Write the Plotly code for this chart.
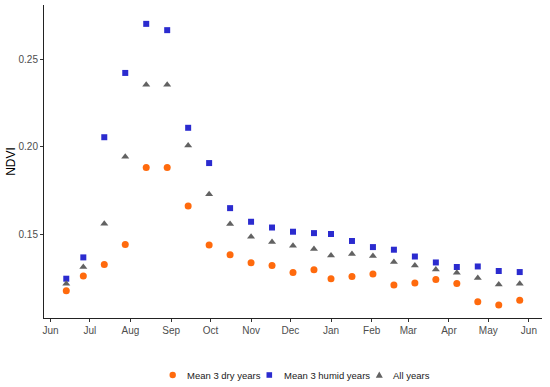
import plotly.graph_objects as go

dates = ["2001-06-13", "2001-06-26", "2001-07-12", "2001-07-28", "2001-08-13", "2001-08-29",
         "2001-09-14", "2001-09-30", "2001-10-16", "2001-11-01", "2001-11-17", "2001-12-03",
         "2001-12-19", "2002-01-01", "2002-01-17", "2002-02-02", "2002-02-18", "2002-03-06",
         "2002-03-22", "2002-04-07", "2002-04-23", "2002-05-09", "2002-05-25"]

dry = [0.1176, 0.1260, 0.1327, 0.1441, 0.1882, 0.1882, 0.1661, 0.1438, 0.1382, 0.1336,
       0.1321, 0.1281, 0.1296, 0.1245, 0.1258, 0.1272, 0.1209, 0.1220, 0.1241, 0.1218,
       0.1113, 0.1094, 0.1121]
humid = [0.1245, 0.1367, 0.2055, 0.2423, 0.2704, 0.2668, 0.2109, 0.1907, 0.1649, 0.1571,
         0.1538, 0.1514, 0.1506, 0.1501, 0.1461, 0.1426, 0.1411, 0.1372, 0.1338, 0.1312,
         0.1315, 0.1289, 0.1283]
all_years = [0.1216, 0.1312, 0.1560, 0.1943, 0.2356, 0.2356, 0.2007, 0.1729, 0.1558, 0.1485,
             0.1455, 0.1434, 0.1415, 0.1378, 0.1386, 0.1375, 0.1340, 0.1321, 0.1298, 0.1279,
             0.1249, 0.1212, 0.1216]

series_names = ["Mean 3 dry years", "Mean 3 humid years", "All years"]
series_colors = ["#FF6A0D", "#2B2BCF", "#626262"]
y_ticks = [0.15, 0.20, 0.25]

W, H = 550, 387
ML, MR, MT, MB = 44, 8, 5, 69
PW, PH = W - ML - MR, H - MT - MB


def px_x(px):
    return (px - ML) / PW


def px_y(py):
    return (H - MB - py) / PH


fig = go.Figure()
fig.add_trace(go.Scatter(x=dates, y=dry, mode="markers", name=series_names[0],
                         marker=dict(symbol="circle", size=7, color=series_colors[0])))
fig.add_trace(go.Scatter(x=dates, y=humid, mode="markers", name=series_names[1],
                         marker=dict(symbol="square", size=6, color=series_colors[1])))
fig.add_trace(go.Scatter(x=dates, y=all_years, mode="markers", name=series_names[2],
                         marker=dict(symbol="triangle-up", size=7, color=series_colors[2])))

# Legend drawn below the panel (ggplot-style compact spacing)
leg_y = 375
sym_x = [172.7, 269.3, 379.3]
txt_x = [185, 281.7, 390.7]
shapes = []
r = 3.2
shapes.append(dict(type="circle", xref="paper", yref="paper",
                   x0=px_x(sym_x[0] - r), x1=px_x(sym_x[0] + r),
                   y0=px_y(leg_y + r), y1=px_y(leg_y - r),
                   fillcolor=series_colors[0], line=dict(width=0)))
s = 2.8
shapes.append(dict(type="rect", xref="paper", yref="paper",
                   x0=px_x(sym_x[1] - s), x1=px_x(sym_x[1] + s),
                   y0=px_y(leg_y + s), y1=px_y(leg_y - s),
                   fillcolor=series_colors[1], line=dict(width=0)))
t = 3.5
path = "M {:.5f},{:.5f} L {:.5f},{:.5f} L {:.5f},{:.5f} Z".format(
    px_x(sym_x[2] - t), px_y(leg_y + 2.8),
    px_x(sym_x[2] + t), px_y(leg_y + 2.8),
    px_x(sym_x[2]), px_y(leg_y - 3.5))
shapes.append(dict(type="path", xref="paper", yref="paper", path=path,
                   fillcolor=series_colors[2], line=dict(width=0)))

annotations = []
for name, tx in zip(series_names, txt_x):
    annotations.append(dict(text=name, xref="paper", yref="paper",
                            x=px_x(tx), y=px_y(leg_y), xanchor="left", yanchor="middle",
                            showarrow=False, font=dict(size=9.5, color="#1A1A1A")))

fig.update_layout(
    width=W, height=H,
    margin=dict(l=ML, r=MR, t=MT, b=MB),
    paper_bgcolor="white", plot_bgcolor="white",
    font=dict(family="Liberation Sans, Arial, sans-serif", size=10, color="#4D4D4D"),
    showlegend=False,
    shapes=shapes,
    annotations=annotations,
)
fig.update_xaxes(
    type="date", range=["2001-05-27", "2002-06-11"],
    tick0="2001-06-01", dtick="M1", tickformat="%b",
    showgrid=False, zeroline=False, automargin=False,
    showline=True, linecolor="#222222", linewidth=1,
    ticks="outside", ticklen=3, tickcolor="#333333", tickwidth=1,
    tickfont=dict(size=10, color="#4D4D4D"),
)
fig.update_yaxes(
    range=[0.102, 0.2812],
    tickvals=y_ticks, tickformat=".2f",
    showgrid=False, zeroline=False, automargin=False,
    showline=True, linecolor="#222222", linewidth=1,
    ticks="outside", ticklen=3, tickcolor="#333333", tickwidth=1,
    tickfont=dict(size=10, color="#4D4D4D"),
    title=dict(text="NDVI", font=dict(size=12, color="#000000"), standoff=0),
)

fig.write_html("out.html",
               config={"displayModeBar": False},
               post_script="document.body.style.margin='0';document.body.style.padding='0';")
